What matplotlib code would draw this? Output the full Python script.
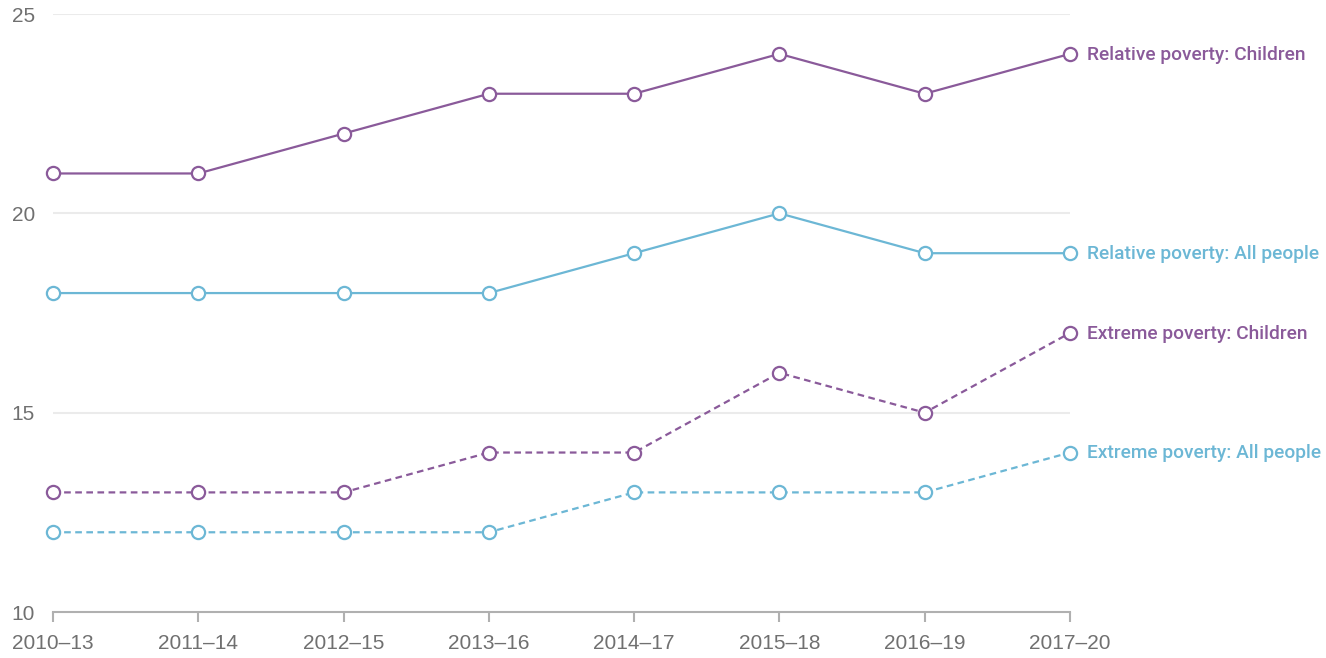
import numpy as np
import matplotlib.pyplot as plt

periods = ["2010–13", "2011–14", "2012–15", "2013–16", "2014–17", "2015–18", "2016–19", "2017–20"]
rel_children = [21, 21, 22, 23, 23, 24, 23, 24]
rel_all = [18, 18, 18, 18, 19, 20, 19, 19]
ext_children = [13, 13, 13, 14, 14, 16, 15, 17]
ext_all = [12, 12, 12, 12, 13, 13, 13, 14]

purple = "#8a5a9a"
blue = "#6cb7d5"

plt.rcParams['font.family'] = ['Liberation Sans', 'DejaVu Sans']

fig = plt.figure(figsize=(13.26, 6.58), dpi=100)
ax = fig.add_axes([53/1326, 46/658, (1070-53)/1326, (612-14)/658])

x = np.arange(len(periods))
series = [
    (rel_children, purple, "-", "Relative poverty: Children"),
    (rel_all, blue, "-", "Relative poverty: All people"),
    (ext_children, purple, "--", "Extreme poverty: Children"),
    (ext_all, blue, "--", "Extreme poverty: All people"),
]

for yy in [15, 20, 25]:
    ax.axhline(yy, color="#ebebeb", lw=1.5, zorder=0)

for vals, col, ls, name in series:
    ax.plot(x, vals, color=col, ls=ls, lw=1.6, marker="o", ms=9.5,
            mfc="white", mec=col, mew=1.6, clip_on=False, zorder=3,
            dashes=(3, 2) if ls == "--" else (None, None))
    ax.annotate(name, (x[-1], vals[-1]), xytext=(12.5, -0.5), textcoords="offset points",
                color=col, fontsize=13.8, va="center", ha="left", annotation_clip=False,
                family=["Roboto", "DejaVu Sans"], fontweight="medium")

ax.set_xlim(0, len(periods) - 1)
ax.set_ylim(10, 25)
ax.set_xticks(x)
ax.set_xticklabels(periods, fontsize=15, color="#707070")
ax.set_yticks([10, 15, 20, 25])
ax.set_yticklabels(["10", "15", "20", "25"], fontsize=15, color="#707070")
ax.tick_params(axis="y", length=0, pad=13)
ax.tick_params(axis="x", length=7, width=1.5, color="#b0b0b0", pad=9)
for s in ["top", "right", "left"]:
    ax.spines[s].set_visible(False)
ax.spines["bottom"].set_color("#b0b0b0")
ax.spines["bottom"].set_linewidth(1.5)

fig.savefig("out.png", dpi=100)
